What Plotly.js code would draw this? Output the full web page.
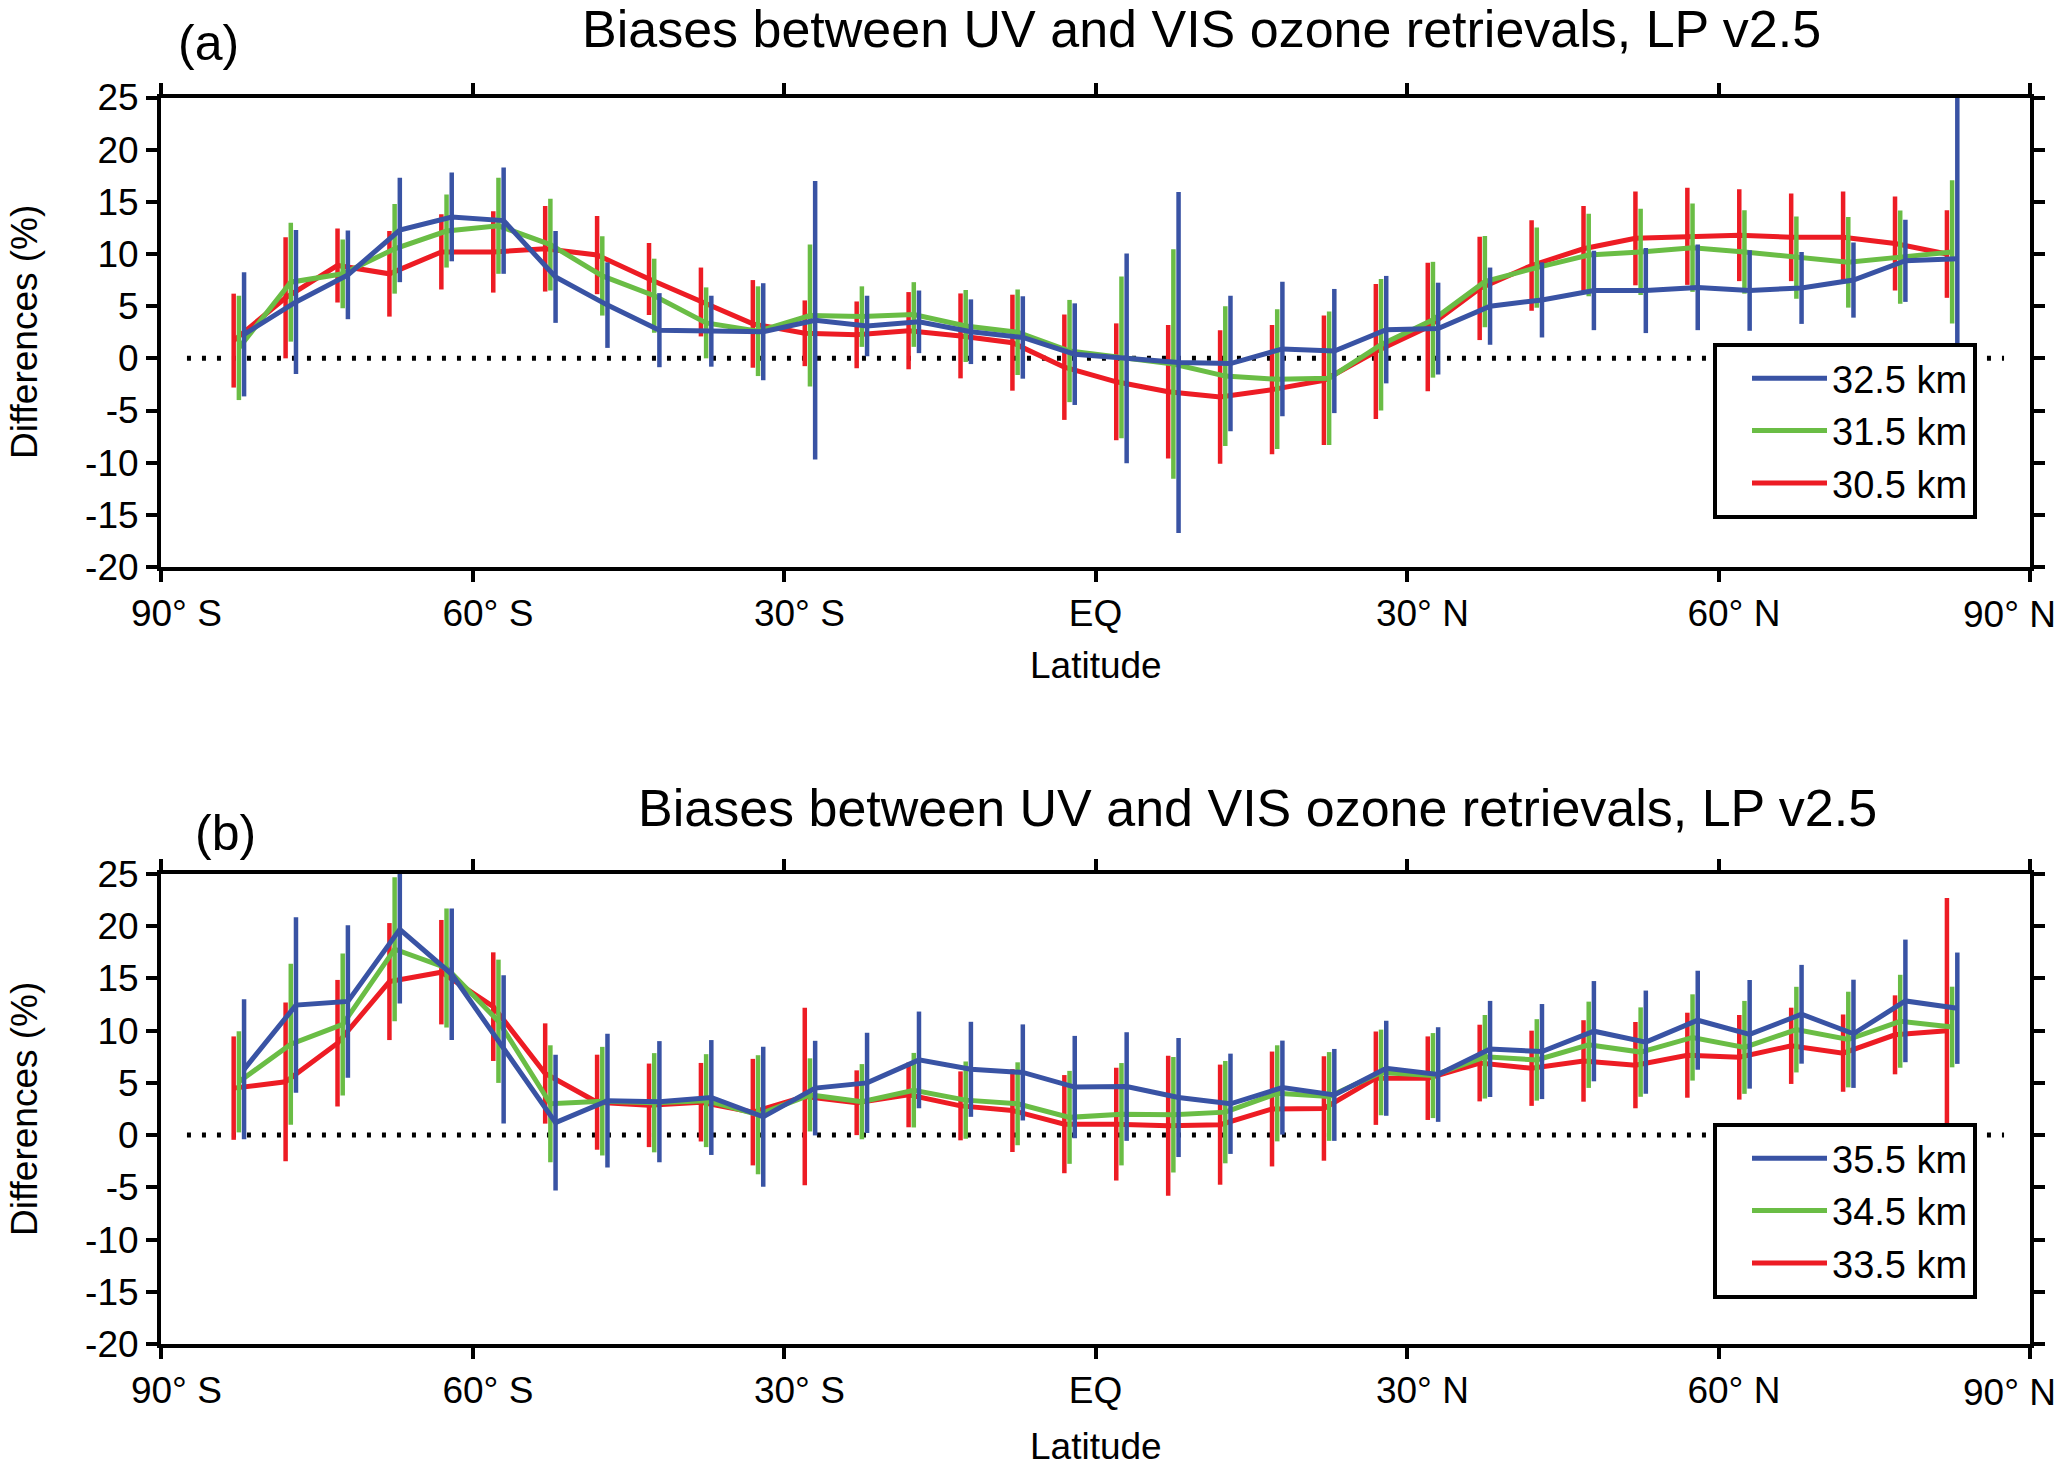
<!DOCTYPE html>
<html>
<head>
<meta charset="utf-8">
<script src="https://cdn.plot.ly/plotly-3.0.1.min.js"></script>
<style>
  html, body { margin: 0; padding: 0; background: #fff; }
  #chart { width: 2067px; height: 1473px; }
</style>
</head>
<body>
<div id="chart"></div>
<script>
// latitude bin centres (deg)
const lat = [-82.5, -77.5, -72.5, -67.5, -62.5, -57.5, -52.5, -47.5, -42.5, -37.5, -32.5,
             -27.5, -22.5, -17.5, -12.5, -7.5, -2.5, 2.5, 7.5, 12.5, 17.5, 22.5, 27.5,
             32.5, 37.5, 42.5, 47.5, 52.5, 57.5, 62.5, 67.5, 72.5, 77.5, 82.5];

const latTickVals = [-90, -60, -30, 0, 30, 60, 90];
const latTickText = ['90° S', '60° S', '30° S', 'EQ', '30° N', '60° N', '90° N'];
const diffTickVals = [-20, -15, -10, -5, 0, 5, 10, 15, 20, 25];
const diffTickText = ['-20', '-15', '-10', '-5', '0', '5', '10', '15', '20', '25'];

// panel (a): 30.5 / 31.5 / 32.5 km
const biasA305 = [1.7, 5.8, 8.9, 8.1, 10.2, 10.2, 10.5, 9.9, 7.6, 5.4, 3.3,
                  2.4, 2.25, 2.65, 2.15, 1.5, -0.85, -2.25, -3.2, -3.7, -3.0, -2.1, 0.65,
                  3.0, 6.7, 8.9, 10.5, 11.5, 11.7, 11.8, 11.6, 11.6, 11.0, 10.0];
const errA305 = [4.5, 5.8, 3.55, 4.1, 3.6, 3.9, 4.1, 3.75, 3.45, 3.3, 4.2,
                 3.15, 3.2, 3.7, 4.07, 4.6, 5.05, 5.6, 6.4, 6.4, 6.2, 6.2, 6.47,
                 6.15, 4.95, 4.34, 4.1, 4.5, 4.66, 4.4, 4.2, 4.4, 4.5, 4.2];
const biasA315 = [1.0, 7.3, 8.1, 10.5, 12.2, 12.7, 10.9, 7.9, 6.0, 3.4, 2.6,
                  4.1, 4.0, 4.2, 3.1, 2.5, 0.7, 0.1, -0.55, -1.7, -2.0, -1.9, 1.3,
                  3.7, 7.35, 8.7, 9.9, 10.2, 10.6, 10.2, 9.65, 9.2, 9.7, 10.2];
const errA315 = [5.0, 5.7, 3.3, 4.3, 3.5, 4.6, 4.4, 3.8, 3.55, 3.4, 4.3,
                 6.8, 2.9, 3.1, 3.45, 4.1, 4.9, 7.75, 11.0, 6.7, 6.7, 6.4, 6.3,
                 5.55, 4.37, 3.85, 3.95, 4.13, 4.23, 4.0, 3.94, 4.34, 4.47, 6.87];
const biasA325 = [2.3, 5.4, 8.0, 12.3, 13.55, 13.2, 7.8, 5.1, 2.7, 2.6, 2.55,
                  3.65, 3.1, 3.5, 2.55, 2.0, 0.4, 0.0, -0.4, -0.5, 0.9, 0.7, 2.75,
                  2.85, 5.0, 5.6, 6.5, 6.5, 6.8, 6.5, 6.75, 7.5, 9.35, 9.55];
const errA325 = [5.95, 6.9, 4.25, 5.0, 4.25, 5.1, 4.4, 4.1, 3.55, 3.4, 4.65,
                 13.35, 2.9, 3.0, 3.1, 3.95, 4.87, 10.05, 16.35, 6.5, 6.45, 5.95, 5.15,
                 4.4, 3.7, 3.6, 3.8, 4.08, 4.1, 3.86, 3.45, 3.6, 3.94, 15.5];

// panel (b): 33.5 / 34.5 / 35.5 km
const biasB335 = [4.5, 5.1, 8.8, 14.7, 15.6, 12.3, 5.9, 3.15, 2.85, 3.15, 2.2,
                  3.7, 3.1, 3.85, 2.8, 2.35, 1.05, 1.05, 0.9, 1.0, 2.5, 2.55, 5.45,
                  5.45, 6.9, 6.4, 7.1, 6.7, 7.65, 7.45, 8.55, 7.85, 9.6, 10.0];
const errB335 = [4.95, 7.6, 6.06, 5.6, 5.0, 5.2, 4.8, 4.55, 4.0, 3.76, 5.1,
                 8.5, 3.1, 3.1, 3.3, 3.97, 4.7, 5.4, 6.7, 5.75, 5.5, 5.0, 4.47,
                 4.0, 3.67, 3.6, 3.9, 4.13, 4.07, 4.05, 3.65, 3.7, 3.78, 12.7];
const biasB345 = [5.1, 8.7, 10.6, 17.8, 16.0, 10.9, 3.0, 3.25, 3.1, 3.3, 1.95,
                  3.85, 3.2, 4.3, 3.35, 3.0, 1.7, 2.0, 1.95, 2.2, 4.0, 3.7, 6.0,
                  5.7, 7.5, 7.2, 8.65, 7.95, 9.35, 8.4, 10.1, 9.15, 10.9, 10.35];
const errB345 = [4.84, 7.7, 6.8, 6.9, 5.7, 5.9, 5.6, 5.2, 4.75, 4.45, 5.7,
                 3.5, 3.6, 3.57, 3.7, 3.97, 4.45, 4.9, 5.53, 4.9, 4.6, 4.25, 4.1,
                 4.07, 4.0, 3.9, 4.13, 4.28, 4.13, 4.45, 4.1, 4.58, 4.45, 3.86];
const biasB355 = [6.3, 12.45, 12.8, 19.7, 15.4, 8.2, 1.2, 3.3, 3.2, 3.6, 1.75,
                  4.5, 5.0, 7.2, 6.3, 6.0, 4.6, 4.65, 3.6, 3.0, 4.55, 3.85, 6.4,
                  5.8, 8.25, 8.0, 9.95, 8.9, 11.0, 9.65, 11.57, 9.7, 12.85, 12.15];
const errB355 = [6.7, 8.4, 7.3, 7.1, 6.3, 7.1, 6.5, 6.4, 5.8, 5.5, 6.7,
                 4.53, 4.8, 4.63, 4.55, 4.6, 4.9, 5.2, 5.7, 4.8, 4.5, 4.4, 4.55,
                 4.53, 4.6, 4.55, 4.8, 4.94, 4.74, 5.2, 4.73, 5.18, 5.87, 5.33];

const RED = '#ed1c24', GREEN = '#6abd45', BLUE = '#3953a4';
const FONT = 'Liberation Sans, Arial, Helvetica, sans-serif';
const titleText = 'Biases between UV and VIS ozone retrievals, LP v2.5';

// each series is nudged sideways a little so the bars don't sit on top of each other
function series(y, err, name, color, dx, xa, ya, leg) {
    return {
        x: lat.map(v => v + dx), y: y,
        type: 'scatter', mode: 'lines', name: name,
        xaxis: xa, yaxis: ya, legend: leg,
        line: { color: color, width: 5 },
        error_y: { type: 'data', array: err, visible: true, color: color, thickness: 4.5, width: 0 },
        cliponaxis: false, hoverinfo: 'x+y'
    };
}

const traces = [
    series(biasA305, errA305, '30.5 km', RED, -0.5, 'x', 'y', 'legend'),
    series(biasA315, errA315, '31.5 km', GREEN, 0, 'x', 'y', 'legend'),
    series(biasA325, errA325, '32.5 km', BLUE, 0.5, 'x', 'y', 'legend'),
    series(biasB335, errB335, '33.5 km', RED, -0.5, 'x2', 'y2', 'legend2'),
    series(biasB345, errB345, '34.5 km', GREEN, 0, 'x2', 'y2', 'legend2'),
    series(biasB355, errB355, '35.5 km', BLUE, 0.5, 'x2', 'y2', 'legend2')
];

// labels sit a bit right of their tick in the original; EQ is centred.
// The last label (90° N) would run off the page, so it is placed as an annotation below.
const NB = '\u00a0';
const lastLabel = latTickText[latTickText.length - 1];
const latLabels = latTickText.map((t, i) => {
    if (t === 'EQ') return t;
    if (i === latTickText.length - 1) return '';
    return NB.repeat(3) + t;
});

const xBase = {
    domain: [161 / 2067, 2030 / 2067], range: [-90, 90], fixedrange: true,
    tickvals: latTickVals, ticktext: latLabels,
    tickfont: { family: FONT, size: 37, color: '#000' },
    ticks: 'outside', ticklen: 11, tickwidth: 4, tickcolor: '#000',
    showline: true, linewidth: 4, linecolor: '#000', mirror: 'ticks',
    showgrid: false, zeroline: false
};
const yBase = {
    range: [-20, 25], fixedrange: true,
    tickvals: diffTickVals, ticktext: diffTickText,
    tickfont: { family: FONT, size: 37, color: '#000' },
    ticks: 'outside', ticklen: 11, tickwidth: 4, tickcolor: '#000',
    showline: true, linewidth: 4, linecolor: '#000', mirror: 'ticks',
    showgrid: false, zeroline: false
};
const legBase = {
    font: { family: FONT, size: 38, color: '#000' },
    bgcolor: '#fff', bordercolor: '#000', borderwidth: 4,
    traceorder: 'reversed', itemwidth: 75, indentation: 30,
    xanchor: 'right', yanchor: 'top', x: 1977 / 2067
};

const zeroLine = (xr, yr) => ({
    type: 'line', xref: xr, yref: yr, x0: -87.5, x1: 87.5, y0: 0, y1: 0,
    line: { color: '#000', width: 5, dash: '4px,11px' }, layer: 'below'
});

const ann = (text, x, y, size, extra) => Object.assign({
    text: text, xref: 'paper', yref: 'paper', x: x, y: y,
    xanchor: 'center', yanchor: 'middle', showarrow: false,
    font: { family: FONT, size: size, color: '#000' }
}, extra || {});

const layout = {
    width: 2067, height: 1473,
    paper_bgcolor: '#fff', plot_bgcolor: '#fff',
    margin: { t: 0, b: 0, l: 0, r: 0 },
    showlegend: true,
    xaxis: Object.assign({}, xBase, { anchor: 'y' }),
    yaxis: Object.assign({}, yBase, { domain: [1 - 567 / 1473, 1 - 97.5 / 1473], anchor: 'x' }),
    xaxis2: Object.assign({}, xBase, { anchor: 'y2' }),
    yaxis2: Object.assign({}, yBase, { domain: [1 - 1344 / 1473, 1 - 874 / 1473], anchor: 'x2' }),
    legend: Object.assign({}, legBase, { y: 1 - 343 / 1473 }),
    legend2: Object.assign({}, legBase, { y: 1 - 1123 / 1473 }),
    shapes: [zeroLine('x', 'y'), zeroLine('x2', 'y2')],
    annotations: [
        ann(titleText, 1201 / 2067, 1 - 29 / 1473, 52),
        ann('(a)', 208 / 2067, 1 - 43 / 1473, 50),
        ann('Latitude', 1095.5 / 2067, 1 - 665 / 1473, 37),
        ann('Differences (%)', 24 / 2067, 1 - 332 / 1473, 37, { textangle: -90 }),
        ann(lastLabel, 2058 / 2067, 1 - 614 / 1473, 37, { xanchor: 'right' }),
        ann(titleText, 1257 / 2067, 1 - 808 / 1473, 52),
        ann('(b)', 225 / 2067, 1 - 833 / 1473, 50),
        ann('Latitude', 1095.5 / 2067, 1 - 1446 / 1473, 37),
        ann('Differences (%)', 24 / 2067, 1 - 1109 / 1473, 37, { textangle: -90 }),
        ann(lastLabel, 2058 / 2067, 1 - 1392 / 1473, 37, { xanchor: 'right' })
    ]
};

Plotly.newPlot('chart', traces, layout, { displayModeBar: false, staticPlot: true });
</script>
</body>
</html>
